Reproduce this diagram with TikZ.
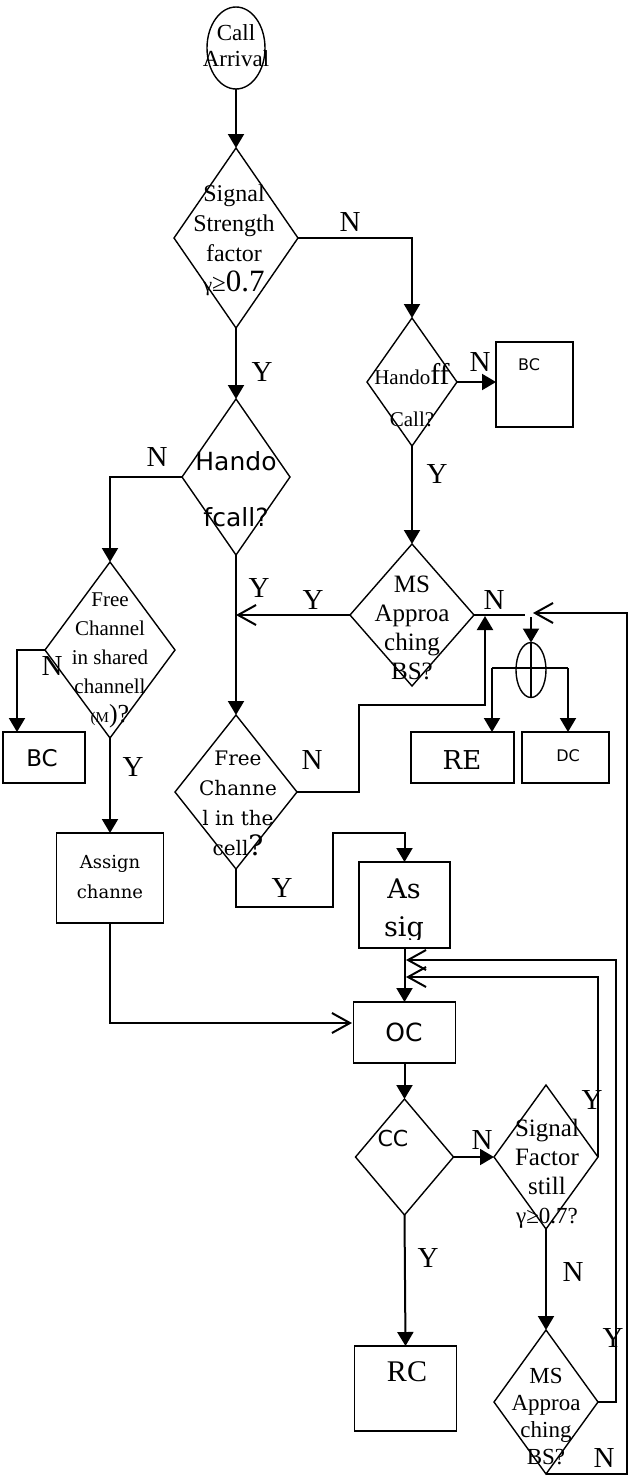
\documentclass[tikz,border=0pt]{standalone}
\usepackage{fontspec}
\setmainfont{Liberation Serif}
\newfontfamily\dsans{DejaVu Sans}
\newfontfamily\dserif{DejaVu Serif}
\usetikzlibrary{shapes.geometric,arrows.meta}
\tikzset{
  shp/.style={draw, line width=1.4pt, inner sep=0pt, outer sep=0pt},
  dia/.style={shp, diamond},
  boxn/.style={shp, rectangle},
  conn/.style={line width=2pt},
  arr/.style={conn, -{Triangle[length=14pt,width=16pt]}},
  oarr/.style={conn, -{Straight Barb[length=18pt,width=20pt]}},
  lab/.style={font=\fontsize{29}{29}\selectfont, inner sep=0pt},
  txt/.style={align=center, inner sep=0pt},
}
\begin{document}
\begin{tikzpicture}[x=1pt,y=-1pt]
\useasboundingbox (0,0) rectangle (629,1476);
% shapes
\node[shp, ellipse, minimum width=58pt, minimum height=82pt] (start) at (236,48) {};
\node[dia, minimum width=124pt, minimum height=180pt] (d1) at (236,238) {};
\node[dia, minimum width=90pt, minimum height=128pt] (d2) at (412,382) {};
\node[boxn, minimum width=77pt, minimum height=85pt] (bc1) at (534.5,384.5) {};
\node[dia, minimum width=108pt, minimum height=156pt] (d3) at (236,477) {};
\node[dia, minimum width=124pt, minimum height=142pt] (d4) at (412,615) {};
\node[shp, ellipse, minimum width=30pt, minimum height=55pt] (xor) at (531,670) {};
\node[boxn, minimum width=103pt, minimum height=51pt] (re) at (462.5,757.5) {};
\node[boxn, minimum width=87pt, minimum height=51pt] (dc) at (565.5,757.5) {};
\node[dia, minimum width=130pt, minimum height=176pt] (d5) at (110,650) {};
\node[boxn, minimum width=82pt, minimum height=51pt] (bc2) at (44,757.5) {};
\node[boxn, minimum width=107pt, minimum height=90pt] (assign) at (110,878) {};
\node[dia, minimum width=122pt, minimum height=154pt] (d6) at (236,792) {};
\node[boxn, minimum width=91pt, minimum height=86pt] (assig) at (404.5,905) {};
\node[boxn, minimum width=102pt, minimum height=61pt] (oc) at (404.5,1032.5) {};
\node[dia, minimum width=98pt, minimum height=116pt] (cc) at (404.5,1157) {};
\node[dia, minimum width=104pt, minimum height=144pt] (sf) at (546,1157) {};
\node[boxn, minimum width=102pt, minimum height=85pt] (rc) at (405.5,1388.5) {};
\node[dia, minimum width=104pt, minimum height=144pt] (d7) at (546,1402) {};

% texts
\node[txt, font=\fontsize{23}{26}\selectfont] (tstart) at (236,46) {Call\\Arrival};
\node[txt, font=\fontsize{24}{30}\selectfont] (t1) at (234,240) {Signal\\Strength\\factor\\{\fontsize{20}{20}\selectfont γ}{\fontsize{25}{25}\selectfont ≥}{\fontsize{31}{31}\selectfont 0.7}};
\node[txt, font=\fontsize{21}{42}\selectfont] (t2) at (412,395) {Hando{\fontsize{30}{30}\selectfont ff}\\Call?};
\node[txt, font=\dsans\fontsize{16}{16}\selectfont] (tbc1) at (529,365) {BC};
\node[txt, font=\dsans\fontsize{25}{56}\selectfont] (t3) at (236,489) {Hando\\fcall?};
\node[txt, font=\fontsize{25}{29}\selectfont] (t4) at (412,628) {MS\\Approa\\ching\\BS?};
\node[txt, font=\dserif\fontsize{26}{26}\selectfont] (tre) at (462,760) {RE};
\node[txt, font=\dsans\fontsize{16}{16}\selectfont] (tdc) at (568,756) {DC};
\node[txt, font=\fontsize{21}{29}\selectfont] (t5) at (110,660) {Free\\Channel\\in shared\\channell\\{\fontsize{15}{15}\selectfont (M}{\fontsize{26}{26}\selectfont )?}};
\node[txt, font=\dsans\fontsize{23}{23}\selectfont] (tbc2) at (42,758) {BC};
\node[txt, font=\dserif\fontsize{18}{30}\selectfont] (tassign) at (110,877) {Assign\\channe};
\node[txt, font=\dserif\fontsize{20}{30}\selectfont] (t6) at (238,803) {Free\\Channe\\l in the\\cell{\fontsize{28}{28}\selectfont ?}};
\begin{scope}
\clip (359,862) rectangle (450,939);
\node[txt, font=\dserif\fontsize{27}{38}\selectfont] (tassig) at (404,911) {As\\sig};
\end{scope}
\node[txt, font=\dsans\fontsize{25}{25}\selectfont] (toc) at (404,1032) {OC};
\node[txt, font=\dsans\fontsize{22}{22}\selectfont] (tcc) at (393,1138) {CC};
\node[txt, font=\fontsize{25}{29}\selectfont] (tsf) at (547,1174) {Signal\\Factor\\still\\{\fontsize{23}{23}\selectfont γ≥0.7?}};
\node[txt, font=\fontsize{30}{30}\selectfont] (trc) at (407,1372) {RC};
\node[txt, font=\fontsize{23}{27}\selectfont] (t7) at (546,1417) {MS\\Approa\\ching\\BS?};

% helper coordinates
\coordinate (bc2in) at (17,732);
\coordinate (ocin) at (352,1023);
\coordinate (n6a) at (359,705);
\coordinate (n6b) at (485,616);
\coordinate (y6a) at (333,907);
\coordinate (y6b) at (333,833);
\coordinate (ysf) at (598,977);
\coordinate (tip2) at (406,977);
\coordinate (yd7) at (616,960);
\coordinate (tip1) at (406,960);
\coordinate (nd7) at (627,613);
\coordinate (tip3) at (533,613);
\coordinate (d4n) at (525,615);
\coordinate (J) at (531,617);
\coordinate (xl) at (492,668);
\coordinate (xr) at (568,668);

% connectors
\draw[arr] (start.south) -- (d1.north);
\draw[arr] (d1.east) -| (d2.north);
\draw[arr] (d2.east) -- (d2.east -| bc1.west);
\draw[arr] (d2.south) -- (d4.north);
\draw[arr] (d1.south) -- (d3.north);
\draw[arr] (d3.west) -| (d5.north);
\draw[arr] (d3.south) -- (d6.north);
\draw[oarr] (d4.west) -- (d4.west -| d3.south);
\draw[conn] (d4.east) -- (d4n);
\draw[arr] (J) -- (xor.north);
\draw[line width=1.4pt] (xor.north) -- (xor.south);
\draw[line width=1.4pt] (xl) -- (xr);
\draw[arr] (xl) -- (xl |- re.north);
\draw[arr] (xr) -- (xr |- dc.north);
\draw[arr] (d5.west) -| (bc2in);
\draw[arr] (d5.south) -- (assign.north);
\draw[oarr] (assign.south) |- (ocin);
\draw[arr] (d6.east) -| (n6a) -| (n6b);
\draw[arr] (d6.south) |- (y6a) -- (y6b) -| (assig.north);
\draw[arr] (assig.south) -- (oc.north);
\draw[arr] (oc.south) -- (cc.north);
\draw[arr] (cc.east) -- (sf.west);
\draw[arr] (cc.south) -- (rc.north);
\draw[oarr] (sf.east) -- (ysf) -- (tip2);
\draw[arr] (sf.south) -- (d7.north);
\draw[oarr] (d7.east) -| (yd7) -- (tip1);
\draw[oarr] (d7.south) -| (nd7) -- (tip3);

% labels
\node[lab] (l1) at (350,222) {N};
\node[lab] (l2) at (480,362) {N};
\node[lab] (l3) at (437,474) {Y};
\node[lab] (l4) at (262,372) {Y};
\node[lab] (l5) at (157,457) {N};
\node[lab] (l6) at (259,588) {Y};
\node[lab] (l7) at (313,600) {Y};
\node[lab] (l8) at (494,600) {N};
\node[lab] (l9) at (52,666) {N};
\node[lab] (l10) at (133,767) {Y};
\node[lab] (l11) at (312,760) {N};
\node[lab] (l12) at (282,888) {Y};
\node[lab] (l13) at (482,1140) {N};
\node[lab] (l14) at (592,1100) {Y};
\node[lab] (l15) at (428,1258) {Y};
\node[lab] (l16) at (573,1272) {N};
\node[lab] (l17) at (613,1338) {Y};
\node[lab] (l18) at (604,1458) {N};
\end{tikzpicture}
\end{document}
